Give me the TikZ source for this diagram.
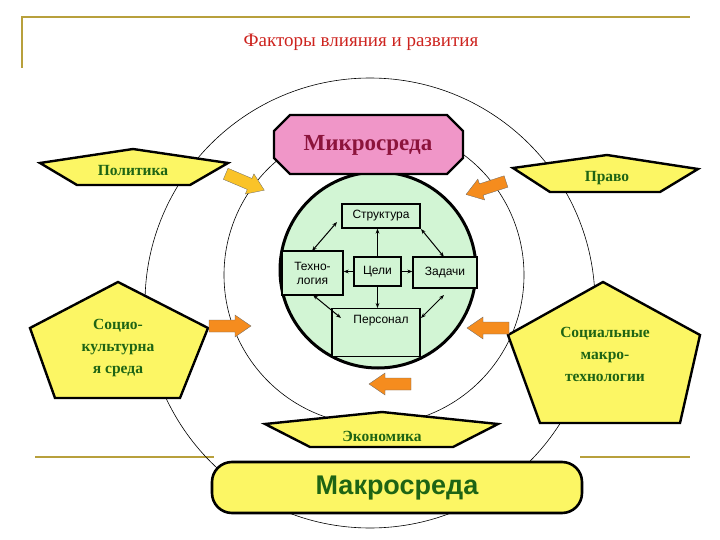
\documentclass[tikz,border=0pt]{standalone}
\usepackage{fontspec}
\setmainfont{Liberation Serif}
\setsansfont{Liberation Sans}
\usetikzlibrary{shapes.geometric,arrows.meta}
\definecolor{gold}{RGB}{184,160,60}
\definecolor{ttl}{RGB}{205,35,30}
\definecolor{yel}{RGB}{252,246,100}
\definecolor{dgreen}{RGB}{30,100,20}
\definecolor{pinkf}{RGB}{240,150,200}
\definecolor{maroon}{RGB}{140,20,60}
\definecolor{lgreen}{RGB}{210,245,212}
\definecolor{orng}{RGB}{245,140,30}
\definecolor{lorng}{RGB}{250,195,40}
\begin{document}
\begin{tikzpicture}[x=1pt,y=-1pt,
  pent/.style={draw=black,line width=2.4pt,fill=yel,line join=miter},
  ptext/.style={text=dgreen,font=\bfseries\fontsize{15.5}{22}\selectfont,align=center},
  ibox/.style={draw=black,line width=1.2pt,fill=lgreen,font=\sffamily\fontsize{12}{14}\selectfont,align=center,inner sep=0pt},
  darr/.style={line width=1pt,{Stealth[length=5pt]}-{Stealth[length=5pt]}},
  sarr/.style={line width=1pt,-{Stealth[length=5pt]}},
  barrow/.pic={\draw[draw=black!60,line width=0.3pt,fill=#1] (-21,-6) -- (5,-6) -- (5,-11) -- (21,0) -- (5,11) -- (5,6) -- (-21,6) -- cycle;}]
\useasboundingbox (0,0) rectangle (720,540);
% frame
\draw[gold,line width=1.6pt] (22,68) -- (22,17) -- (690,17);
\draw[gold,line width=1.6pt] (35,457) -- (214,457) (580,457) -- (690,457);
\node[text=ttl,font=\fontsize{19}{22}\selectfont] (title) at (361,42) {Факторы влияния и развития};
% circles
\draw[line width=0.6pt] (370,303) circle[radius=225pt];
\draw[line width=0.6pt] (374,275) circle[radius=150pt];
\draw[line width=3pt,fill=lgreen] (378,270) circle[radius=98pt];
% micro
\draw[line width=2.4pt,fill=pinkf] (290,115) -- (447,115) -- (463,131) -- (463,158) -- (447,174) -- (290,174) -- (274,158) -- (274,131) -- cycle;
\node[text=maroon,font=\bfseries\fontsize{23}{26}\selectfont] (micro) at (368,145) {Микросреда};
% inner boxes
\node[ibox,minimum width=78pt,minimum height=24pt] (str) at (381,216) {Структура};
\node[ibox,minimum width=61pt,minimum height=44pt] (tech) at (312.5,273) {Техно-\\логия};
\node[ibox,minimum width=47pt,minimum height=29pt] (celi) at (377.5,271.5) {Цели};
\node[ibox,minimum width=64pt,minimum height=31pt] (zad) at (445,272.5) {Задачи};
\node[ibox,minimum width=88pt,minimum height=48pt,anchor=north] (pers) at (376,308) {};
\node[font=\sffamily\fontsize{12}{14}\selectfont] (perst) at (381,321) {Персонал};
\draw[darr] (337,222) -- (312,251);
\draw[darr] (421,229) -- (444,257);
\draw[darr] (313,295) -- (341,318);
\draw[darr] (444,295) -- (421,318);
\draw[sarr] (celi.north) -- (celi.north |- str.south);
\draw[sarr] (celi.west) -- (tech.east |- celi.west);
\draw[sarr] (celi.east) -- (zad.west |- celi.east);
\draw[sarr] (celi.south) -- (celi.south |- pers.north);
% pentagons
\draw[pent] (40,163) -- (133,149) -- (228,163) -- (190,185) -- (77,185) -- cycle;
\node[ptext] (pol) at (133,171) {Политика};
\draw[pent] (513,168) -- (607,155) -- (698,169) -- (660,192) -- (550,192) -- cycle;
\node[ptext] (pravo) at (607,178) {Право};
\draw[pent] (118,282) -- (208,328) -- (180,398) -- (55,398) -- (30,328) -- cycle;
\node[ptext] (soc) at (118,348) {Социо-\\культурна\\я среда};
\draw[pent] (603,282) -- (700,335) -- (680,423) -- (540,423) -- (508,335) -- cycle;
\node[ptext] (smt) at (605,354) {Социальные\\макро-\\технологии};
\draw[pent] (265,424) -- (382,412) -- (498,424) -- (453,447) -- (310,447) -- cycle;
\node[ptext] (eco) at (382,436) {Экономика};
% macro
\draw[line width=2.6pt,fill=yel,rounded corners=20pt] (212,462) rectangle (582,513);
\node[text=dgreen,font=\sffamily\bfseries\fontsize{27}{30}\selectfont] (macro) at (397,488) {Макросреда};
% block arrows
\pic[rotate=-23] at (245,182) {barrow=lorng};
\pic[rotate=198] at (486,188) {barrow=orng};
\pic at (230,326) {barrow=orng};
\pic[rotate=180] at (488,328) {barrow=orng};
\pic[rotate=180] at (390,384) {barrow=orng};
\end{tikzpicture}
\end{document}
